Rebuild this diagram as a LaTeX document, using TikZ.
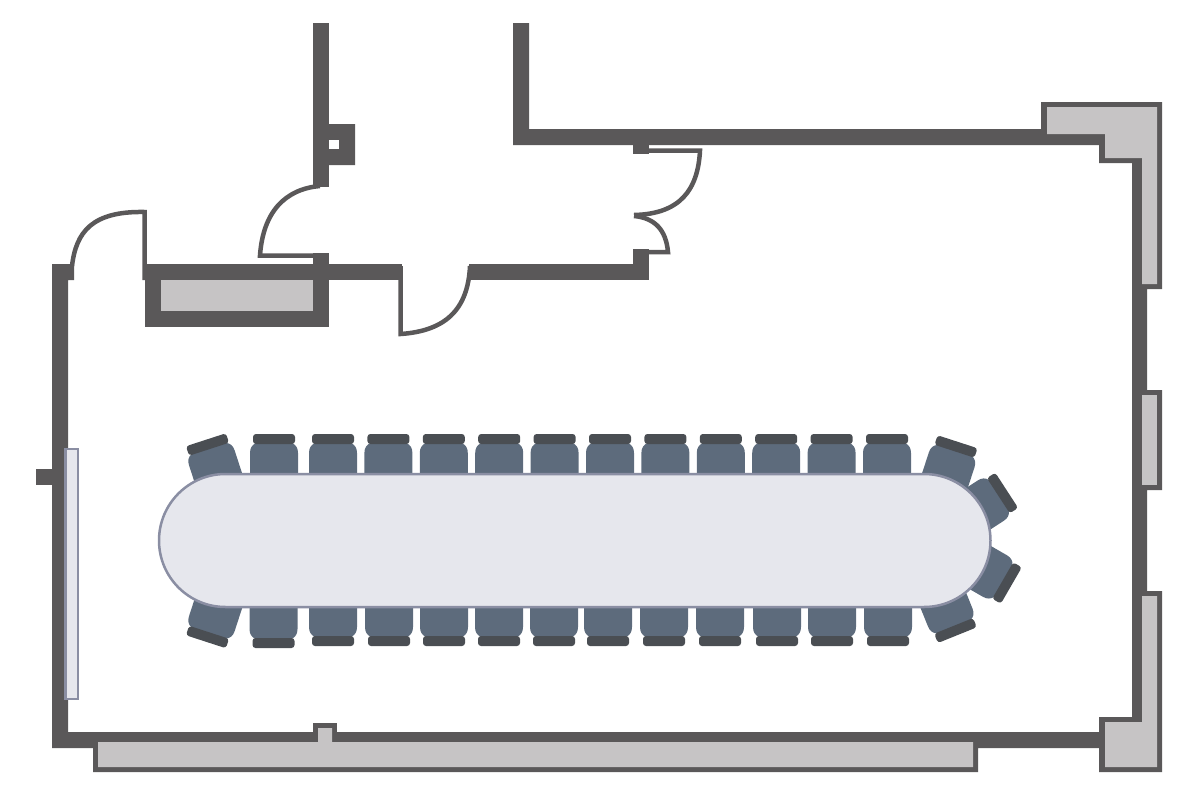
\documentclass[tikz,border=0pt]{standalone}
\definecolor{wallgrey}{HTML}{5A5859}
\definecolor{closetgrey}{HTML}{C6C4C5}
\definecolor{seatblue}{HTML}{5D6B7C}
\definecolor{backgrey}{HTML}{4A4E53}
\definecolor{tablefill}{HTML}{E6E7ED}
\definecolor{tableline}{HTML}{8A8EA3}
\begin{document}
\begin{tikzpicture}[x=1pt,y=-1pt,
    wall/.style={fill=wallgrey},
    closet/.style={fill=closetgrey},
    door/.style={draw=wallgrey,line width=4.5pt},
    chair/.pic={
      \fill[seatblue] (-24,45) -- (-24,14) .. controls (-24,9) and (-22,6) .. (-18,4)
        -- (18,4) .. controls (22,6) and (24,9) .. (24,14) -- (24,45) -- cycle;
      \fill[backgrey,rounded corners=3pt] (-21,-5) rectangle (21,5);
    }]
   \useasboundingbox (0,0) rectangle (1200,795);
   \fill[wall] (52,264) -- (74,264) -- (74,280) -- (68,280) -- (68,732) -- (1099,732)
     -- (1099,717) -- (1132,717) -- (1132,163) -- (1099,163) -- (1099,145) -- (513,145)
     -- (513,23) -- (529,23)
     -- (529,129) -- (1041,129) -- (1041,102) -- (1162,102) -- (1162,289) -- (1147,289)
     -- (1147,390) -- (1162,390) -- (1162,490) -- (1147,490) -- (1147,591) -- (1162,591)
     -- (1162,772) -- (1099,772) -- (1099,748) -- (978,748) -- (978,772) -- (93,772)
     -- (93,748) -- (52,748) -- cycle;
   \fill[wall] (313,723) -- (337,723) -- (337,735) -- (313,735) -- cycle;
   \fill[wall] (36,469) rectangle (52,485);
   \fill[wall] (145,264) rectangle (329,327);
   \fill[wall] (313,253) rectangle (329,264);
   \fill[wall] (329,264) rectangle (402,280);
   \fill[wall] (469,264) rectangle (649,280);
   \fill[wall] (633,249) rectangle (649,264);
   \fill[wall] (633,145) rectangle (649,154);
   \fill[wall] (313,23) rectangle (329,187);
   \fill[wall,even odd rule] (329,124) rectangle (355,165) (329,140) rectangle (339,149);
   \fill[white] (329,140) rectangle (339,149);
   \fill[closet] (161,280) rectangle (313,311);
   \fill[closet] (1047,107) -- (1157,107) -- (1157,284) -- (1142,284) -- (1142,158)
     -- (1105,158) -- (1105,134) -- (1047,134) -- cycle;
   \fill[closet] (1142,395) rectangle (1157,485);
   \fill[closet] (1142,596) -- (1157,596) -- (1157,767) -- (1105,767) -- (1105,722)
     -- (1142,722) -- cycle;
   \fill[closet] (98,742) -- (318,742) -- (318,728) -- (332,728) -- (332,742) -- (973,742)
     -- (973,767) -- (98,767) -- cycle;
   \draw[door] (72,266) .. controls (76,232) and (92,211) .. (144.5,212) -- (144.5,280);
   \draw[door] (320,186) .. controls (285,189) and (263,212) .. (260,255.5) -- (315,255.5);
   \draw[door] (400.5,266) -- (400.5,334) .. controls (445,331) and (468,310) .. (470,266);
   \draw[door] (649,150.5) -- (700,150.5) .. controls (698,190) and (680,214) .. (634,215);
   \draw[door] (634,216) .. controls (655,218) and (666,230) .. (668,252) -- (649,252);
   \draw[fill=tablefill,draw=tableline,line width=2.5pt] (65.5,449) rectangle (78,699);
   \foreach \x in {274,333,388.4,443.8,499.2,554.6,610,665.4,720.8,776.2,831.6,887} {
    \pic at (\x,439) {chair};
   }
   \foreach \x in {333,389,444,499,554,608,664,720,777,832,888} {
    \pic[rotate=180] at (\x,641) {chair};
   }
   \pic[rotate=180] at (273.5,643) {chair};
   \pic[rotate=18] at (207.5,444.5) {chair};
   \pic[rotate=162] at (207.5,637) {chair};
   \pic[rotate=-18] at (956,446.5) {chair};
   \pic[rotate=-57] at (1002.5,493) {chair};
   \pic[rotate=-120] at (1007,583) {chair};
   \pic[rotate=202] at (955.5,630.5) {chair};
   \draw[fill=tablefill,draw=tableline,line width=2.5pt,rounded corners=66.5pt]
     (159,474) rectangle (990.5,607);
\end{tikzpicture}
\end{document}
